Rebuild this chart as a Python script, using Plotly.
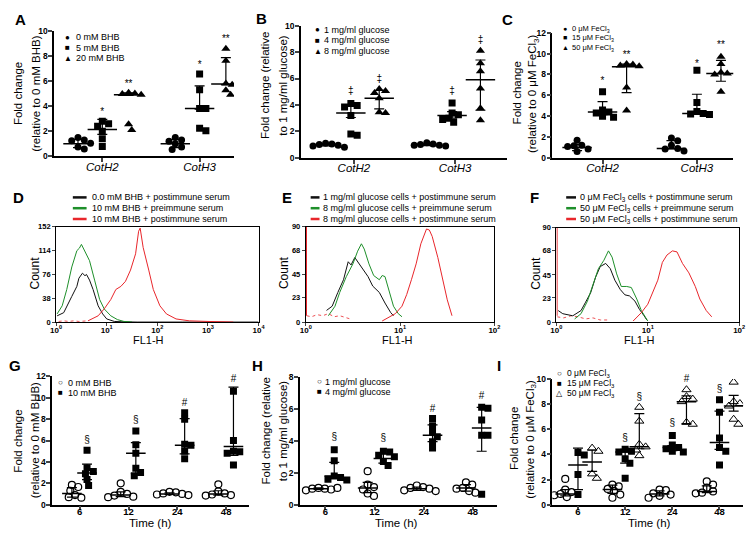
import plotly.graph_objects as go

W, H = 755, 545
FONT = "Liberation Sans, Arial, Helvetica, sans-serif"

# ============ DATA ============
# --- Panel A (BHB) ---
A_categories = ["CotH2", "CotH3"]
A_groups = ["0 mM BHB", "5 mM BHB", "20 mM BHB"]
A_0mM = [[1.5, 1.3, 1.25, 1.05, 0.75, 0.6], [1.5, 1.3, 1.2, 1.0, 0.75, 0.55]]
A_5mM = [[2.8, 2.6, 2.4, 2.0, 1.4, 0.8], [6.55, 5.3, 3.8, 3.8, 2.25, 2.05]]
A_20mM = [[5.05, 5.0, 4.95, 4.9, 2.55, 2.1], [8.55, 7.6, 5.8, 5.7, 5.25, 4.9]]
A_mid = [[1.0, 1.0], [2.15, 3.8], [4.9, 5.75]]
A_lo = [[0.7, 0.7], [1.75, 3.75], [4.85, 5.7]]
A_hi = [[1.35, 1.35], [2.95, 5.6], [5.05, 7.85]]
A_sig = ["", "*", "**"]
A_sig_y = [[None, None], [3.5, 7.25], [5.75, 9.25]]

# --- Panel B (glucose) ---
B_categories = ["CotH2", "CotH3"]
B_groups = ["1 mg/ml glucose", "4 mg/ml glucose", "8 mg/ml glucose"]
B_1mg = [[1.1, 1.05, 1.0, 0.95, 0.9, 0.8], [1.15, 1.05, 1.0, 0.95, 0.95, 0.9]]
B_4mg = [[4.1, 3.95, 3.85, 3.2, 1.8, 1.7], [4.15, 3.4, 3.25, 3.0, 2.9, 2.7]]
B_8mg = [[5.2, 5.05, 4.9, 4.5, 3.45, 3.4], [8.1, 7.15, 6.55, 5.25, 3.75, 2.85]]
B_mid = [[1.0, 1.0], [3.4, 3.2], [4.5, 5.9]]
B_lo = [[0.9, 0.92], [3.05, 3.0], [3.7, 3.6]]
B_hi = [[1.08, 1.06], [4.0, 3.5], [5.1, 7.4]]
B_sig = ["", "‡", "‡"]
B_sig_y = [[None, None], [5.0, 5.0], [5.9, 8.85]]

# --- Panel C (FeCl3) ---
C_categories = ["CotH2", "CotH3"]
C_groups = ["0 μM FeCl<sub>3</sub>", "15 μM FeCl<sub>3</sub>", "50 μM FeCl<sub>3</sub>"]
C_0uM = [[1.7, 1.2, 1.15, 1.1, 0.85, 0.6], [1.9, 1.65, 1.2, 0.9, 0.85, 0.65]]
C_15uM = [[6.35, 4.6, 4.4, 4.3, 4.0, 3.9], [8.4, 5.3, 4.45, 4.25, 4.2, 4.15]]
C_50uM = [[9.0, 8.95, 8.85, 8.8, 6.75, 4.55], [9.7, 9.0, 8.2, 8.1, 8.0, 6.35]]
C_mid = [[1.0, 0.9], [4.4, 4.25], [8.75, 8.1]]
C_lo = [[0.7, 0.85], [4.15, 4.2], [6.25, 7.35]]
C_hi = [[1.3, 1.65], [5.4, 6.1], [9.0, 9.35]]
C_sig = ["", "*", "**"]
C_sig_y = [[None, None], [7.3, 9.0], [9.8, 10.75]]

# --- Panel D (flow, BHB) : log10 FL1-H, counts ---
D_labels = ["0.0 mM BHB + postimmune serum", "10 mM BHB + preimmune serum", "10 mM BHB + postimmune serum"]
D_black_log = [0.02, 0.15, 0.31, 0.41, 0.45, 0.5, 0.52, 0.57, 0.6, 0.66, 0.73, 0.83, 0.92, 1.0, 1.15, 1.3, 1.6, 2.5, 4.0]
D_black_cnt = [10, 15, 41, 57, 70, 75, 78, 74, 76, 67, 52, 26, 13, 5, 1, 0.5, 0, 0, 0]
D_green_log = [0.02, 0.12, 0.21, 0.31, 0.41, 0.46, 0.5, 0.54, 0.57, 0.66, 0.76, 0.86, 0.95, 1.08, 1.21, 1.34, 1.5]
D_green_cnt = [13, 26, 52, 88, 114, 118, 124, 118, 114, 98, 67, 36, 21, 10, 4, 1, 0]
D_red_log = [0.63, 0.83, 0.95, 1.08, 1.18, 1.28, 1.37, 1.47, 1.57, 1.63, 1.66, 1.72, 1.83, 1.92, 2.05, 2.18, 2.37, 2.63, 3.0, 3.5]
D_red_cnt = [2, 10, 21, 36, 52, 57, 65, 83, 109, 145, 150, 119, 83, 52, 26, 13, 5, 2, 1, 0]
D_redfloor_log = [0.05, 0.15, 0.25, 0.35, 0.45, 0.55, 0.63]
D_redfloor_cnt = [1, 2, 1, 2, 1, 2, 2]

# --- Panel E (flow, glucose) ---
E_labels = ["1 mg/ml glucose cells + postimmune serum", "8 mg/ml glucose cells + preimmune serum", "8 mg/ml glucose cells + postimmune serum"]
E_black_log = [0.22, 0.28, 0.34, 0.40, 0.45, 0.48, 0.52, 0.55, 0.60, 0.66, 0.71, 0.78, 0.84, 0.90, 0.93]
E_black_cnt = [11, 15, 28, 40, 57, 54, 61, 57, 51, 43, 34, 28, 18, 9, 6]
E_green_log = [0.24, 0.31, 0.36, 0.43, 0.50, 0.55, 0.59, 0.62, 0.67, 0.72, 0.78, 0.81, 0.84, 0.88, 0.93, 0.98, 1.02]
E_green_cnt = [6, 15, 28, 43, 55, 67, 74, 69, 55, 44, 40, 44, 43, 31, 15, 8, 5]
E_red_log = [0.81, 0.95, 1.02, 1.07, 1.12, 1.17, 1.22, 1.28, 1.31, 1.34, 1.40, 1.45, 1.50, 1.55]
E_red_cnt = [1, 8, 15, 26, 40, 55, 74, 88, 87, 81, 61, 40, 21, 6]
E_redspike_log = [0.008, 0.008]
E_redspike_cnt = [90, 6]
E_redfloor_log = [0.01, 0.06, 0.12, 0.18, 0.24, 0.3, 0.36, 0.42, 0.47]
E_redfloor_cnt = [6, 5, 7, 6, 8, 5, 6, 4, 3]

# --- Panel F (flow, FeCl3) ---
F_labels = ["0 μM FeCl<sub>3</sub> cells + postimmune serum", "50 μM FeCl<sub>3</sub> cells + preimmune serum", "50 μM FeCl<sub>3</sub> cells + postimmune serum"]
F_black_log = [0.02, 0.07, 0.18, 0.27, 0.32, 0.375, 0.43, 0.48, 0.54, 0.59, 0.64, 0.70, 0.75, 0.80, 0.86, 0.91, 0.96, 0.99]
F_black_cnt = [11, 8, 6, 11, 19, 28, 43, 53, 56, 51, 40, 31, 26, 25, 20, 12, 6, 2]
F_green_log = [0.2, 0.27, 0.34, 0.41, 0.46, 0.52, 0.57, 0.61, 0.66, 0.71, 0.77, 0.82, 0.88, 0.93, 0.98, 1.0]
F_green_cnt = [3, 8, 20, 37, 51, 59, 68, 62, 46, 34, 34, 33, 22, 11, 4, 1]
F_red_log = [0.84, 0.93, 1.0, 1.05, 1.11, 1.16, 1.21, 1.27, 1.32, 1.38, 1.45, 1.52, 1.57, 1.64, 1.70]
F_red_cnt = [1, 9, 17, 28, 40, 57, 64, 68, 67, 56, 47, 34, 22, 11, 5]
F_redspike_log = [0.008, 0.008]
F_redspike_cnt = [90, 6]
F_redfloor_log = [0.01, 0.08, 0.16, 0.24, 0.32, 0.4, 0.48, 0.56]
F_redfloor_cnt = [5, 4, 6, 5, 3, 4, 2, 2]

# --- Panel G (time course BHB) ---
G_times = ["6", "12", "24", "48"]
G_groups = ["0 mM BHB", "10 mM BHB"]
G_0mM = [[1.85, 1.65, 1.3, 0.9, 0.7, 0.65], [2.0, 1.2, 1.0, 0.85, 0.75, 0.7],
         [1.2, 1.15, 1.05, 1.0, 0.95, 0.9], [1.9, 1.25, 1.05, 0.95, 0.9, 0.85]]
G_10mM = [[5.1, 3.45, 3.1, 2.9, 2.35, 1.8], [6.9, 5.6, 4.8, 3.4, 3.0, 2.7],
          [8.6, 8.0, 5.65, 5.55, 5.0, 4.3], [10.6, 6.0, 5.0, 4.95, 4.8, 3.7]]
G_mid = [[1.05, 0.9, 1.0, 1.0], [2.95, 4.8, 5.55, 5.45]]
G_lo = [[0.7, 0.75, 0.95, 0.9], [2.35, 2.9, 4.75, 4.6]]
G_hi = [[1.6, 1.2, 1.1, 1.3], [3.8, 5.8, 8.05, 11.0]]
G_sig = [["", "", "", ""], ["§", "§", "#", "#"]]
G_sig_y = [[None] * 4, [6.0, 7.85, 9.45, 11.7]]

# --- Panel H (time course glucose) ---
H_times = ["6", "12", "24", "48"]
H_groups = ["1 mg/ml glucose", "4 mg/ml glucose"]
H_1mg = [[1.05, 1.0, 1.0, 0.95, 0.9, 1.05], [2.1, 1.25, 1.1, 0.95, 0.7, 0.55],
         [1.2, 1.1, 1.05, 1.0, 0.9, 0.85], [1.4, 1.25, 1.05, 1.0, 0.85, 0.75]]
H_4mg = [[3.45, 2.75, 1.8, 1.7, 1.6, 1.55], [3.35, 3.3, 3.1, 3.0, 2.7, 2.45],
         [5.4, 4.95, 4.55, 4.25, 3.95, 3.55], [6.1, 6.05, 5.3, 4.35, 4.35, 0.65]]
H_mid = [[1.0, 1.05, 1.0, 1.05], [1.8, 2.9, 4.35, 4.8]]
H_lo = [[0.95, 0.75, 0.9, 0.85], [1.65, 2.6, 3.95, 3.35]]
H_hi = [[1.05, 1.4, 1.1, 1.25], [2.65, 3.2, 5.0, 6.1]]
H_sig = [["", "", "", ""], ["§", "§", "#", "#"]]
H_sig_y = [[None] * 4, [4.2, 4.15, 5.95, 6.75]]

# --- Panel I (time course FeCl3) ---
I_times = ["6", "12", "24", "48"]
I_groups = ["0 μM FeCl<sub>3</sub>", "15 μM FeCl<sub>3</sub>", "50 μM FeCl<sub>3</sub>"]
I_0uM = [[2.05, 1.2, 1.0, 0.85, 0.75, 0.6], [1.6, 1.45, 1.25, 1.1, 0.8, 0.55],
         [1.2, 1.15, 0.9, 0.8, 0.7, 0.55], [1.85, 1.6, 1.35, 1.05, 0.95, 0.9]]
I_15uM = [[4.15, 3.95, 2.4, 0.8], [4.4, 4.25, 4.2, 3.65, 3.3, 2.1],
          [5.5, 4.75, 4.55, 4.45, 4.25, 4.2], [8.35, 7.35, 5.3, 4.55, 4.25, 3.15]]
I_50uM = [[4.5, 4.25, 2.45, 2.1], [7.75, 6.65, 4.8, 4.6, 4.35, 3.9],
          [9.15, 8.6, 8.4, 8.2, 6.55, 6.4], [9.75, 8.2, 8.05, 7.85, 6.8, 6.4]]
I_mid = [[0.85, 1.2, 0.85, 1.05], [3.15, 4.2, 4.55, 4.95], [3.4, 4.6, 8.2, 7.85]]
I_lo = [[0.7, 0.9, 0.7, 0.95], [1.2, 3.3, 4.3, 4.4], [2.65, 4.45, 6.45, 7.45]]
I_hi = [[1.2, 1.55, 1.1, 1.5], [4.5, 4.4, 4.7, 7.45], [4.35, 7.25, 8.65, 8.7]]
I_sig = [["", "", "", ""], ["", "§", "§", "§"], ["", "§", "#", "#"]]
I_sig_y = [[None] * 4, [None, 5.25, 6.45, 9.15], [None, 8.55, 9.95, 10.7]]

# ============ LAYOUT GEOMETRY (pixels) ============
BOX = {
    1: dict(l=49, r=232, t=26, b=154.3),
    2: dict(l=300, r=510, t=21, b=155.7),
    3: dict(l=556, r=740, t=28.3, b=155.7),
    4: dict(l=51, r=257, t=226, b=323),
    5: dict(l=305, r=497, t=226, b=323),
    6: dict(l=560, r=746, t=227, b=323),
    7: dict(l=47, r=247, t=378.3, b=509),
    8: dict(l=299, r=500, t=379, b=509),
    9: dict(l=556, r=750, t=381, b=509),
}
CAT_PX = {1: (98, 197), 2: (354, 457), 3: (607, 703), 7: (75, 224), 8: (325, 475), 9: (582, 726)}


def P(px, py):
    return px / W, 1 - py / H


def axname(n):
    return ("x", "y") if n == 1 else (f"x{n}", f"y{n}")


fig = go.Figure()
layout = dict(width=W, height=H, margin=dict(l=0, r=0, t=0, b=0, pad=0),
              paper_bgcolor="white", plot_bgcolor="white", showlegend=False,
              font=dict(family=FONT, color="black"))
annotations = []
shapes = []


def ann(text, px, py, size, xanchor="center", bold=False, angle=0, italic=False, yanchor="middle"):
    x, y = P(px, py)
    annotations.append(dict(text=text, x=x, y=y, xref="paper", yref="paper", showarrow=False,
                            xanchor=xanchor, yanchor=yanchor, textangle=angle,
                            font=dict(family=FONT, size=size, color="black",
                                      weight="bold" if bold else "normal",
                                      style="italic" if italic else "normal")))


def beeswarm(vals, center, xscale, yscale, d=6.2, step=1.6):
    placed = []
    xs = []
    for v in vals:
        ypx = v * yscale
        k = 0
        while True:
            off = 0 if k == 0 else ((k + 1) // 2) * step * (1 if k % 2 else -1)
            if all((off - a) ** 2 + (ypx - b) ** 2 >= d * d for a, b in placed):
                break
            k += 1
        placed.append((off, ypx))
        xs.append(center + off / xscale)
    return xs


def dot_panel(n, cats, ymax, ytick_step, series, symbols, sizes, lws, offsets,
              mid, lo, hi, sig, sig_y, midsize, capw):
    bx = BOX[n]
    c0, c1 = CAT_PX[n]
    unit = (c1 - c0) / (len(cats) - 1)
    xr = [(bx["l"] - c0) / unit, (bx["r"] - c0) / unit]
    xscale = unit
    yscale = (bx["b"] - bx["t"]) / ymax
    xa, ya = axname(n)
    for g, pts in enumerate(series):
        xs_all, ys_all = [], []
        for c, vals in enumerate(pts):
            xs_all += beeswarm(vals, c + offsets[g], xscale, yscale)
            ys_all += vals
        fig.add_trace(go.Scatter(x=xs_all, y=ys_all, mode="markers", xaxis=xa, yaxis=ya,
                                 marker=dict(symbol=symbols[g], size=sizes[g], color="black",
                                             line=dict(width=lws[g], color="black")),
                                 hoverinfo="skip"))
    for g in range(len(series)):
        xc = [c + offsets[g] for c in range(len(cats))]
        fig.add_trace(go.Scatter(
            x=xc, y=mid[g], mode="markers", xaxis=xa, yaxis=ya,
            marker=dict(symbol="line-ew", size=midsize, line=dict(width=1.5, color="black")),
            error_y=dict(type="data", symmetric=False,
                         array=[h - m for h, m in zip(hi[g], mid[g])],
                         arrayminus=[m - l for m, l in zip(mid[g], lo[g])],
                         width=capw, thickness=1.2, color="black"),
            hoverinfo="skip"))
        sx = [xc[i] for i in range(len(cats)) if sig_y[g][i] is not None]
        sy = [sig_y[g][i] for i in range(len(cats)) if sig_y[g][i] is not None]
        st = [sig[g][i] if isinstance(sig[g], list) else sig[g]
              for i in range(len(cats)) if sig_y[g][i] is not None]
        if sx:
            fig.add_trace(go.Scatter(x=sx, y=sy, mode="text", text=st, xaxis=xa, yaxis=ya,
                                     textfont=dict(family=FONT, size=10, color="#000000"),
                                     cliponaxis=False, hoverinfo="skip"))
    xk = "xaxis" if n == 1 else f"xaxis{n}"
    yk = "yaxis" if n == 1 else f"yaxis{n}"
    layout[xk] = dict(domain=[bx["l"] / W, bx["r"] / W], range=xr, anchor=ya,
                      tickmode="array", tickvals=list(range(len(cats))), ticktext=cats,
                      ticks="outside", ticklen=4, tickwidth=1.5, showline=True, linewidth=1.5,
                      linecolor="black", showgrid=False, zeroline=False, ticklabelstandoff=-5)
    layout[yk] = dict(domain=[1 - bx["b"] / H, 1 - bx["t"] / H], range=[0, ymax], anchor=xa,
                      tickmode="array", tickvals=list(range(0, ymax + 1, ytick_step)),
                      ticks="outside", ticklen=4, tickwidth=1.5, showline=True, linewidth=1.5,
                      linecolor="black", showgrid=False, zeroline=False, ticklabelstandoff=-1,
                      tickfont=dict(family=FONT, size=8.5, weight="bold"))
    return xk


def hist_panel(n, xmax_dec, ymax, yticks, curves):
    bx = BOX[n]
    xa, ya = axname(n)
    for logs, cnts, color, dash, lw in curves:
        fig.add_trace(go.Scatter(x=[10 ** v for v in logs], y=cnts, mode="lines", xaxis=xa, yaxis=ya,
                                 line=dict(color=color, width=lw, dash=dash), hoverinfo="skip"))
    xk = "xaxis" if n == 1 else f"xaxis{n}"
    yk = "yaxis" if n == 1 else f"yaxis{n}"
    decs = list(range(0, xmax_dec + 1))
    layout[xk] = dict(domain=[bx["l"] / W, bx["r"] / W], type="log", range=[0, xmax_dec], anchor=ya,
                      tickmode="array", tickvals=[10 ** d for d in decs],
                      ticktext=[f"10<sup>{d}</sup>" for d in decs],
                      ticks="outside", ticklen=3, tickwidth=1, showline=True, linewidth=1,
                      linecolor="black", mirror=True, showgrid=False, zeroline=False,
                      ticklabelstandoff=-3,
                      tickfont=dict(family=FONT, size=8, weight="bold"))
    layout[yk] = dict(domain=[1 - bx["b"] / H, 1 - bx["t"] / H], range=[0, ymax], anchor=xa,
                      tickmode="array", tickvals=yticks,
                      ticks="outside", ticklen=3, tickwidth=1, showline=True, linewidth=1,
                      linecolor="black", mirror=True, showgrid=False, zeroline=False,
                      tickfont=dict(family=FONT, size=7.5, weight="bold"))


ital = lambda cs: [f"<i>{c}</i>" for c in cs]
FILLED = ["circle", "square", "triangle-up"]

kA = dot_panel(1, A_categories, 10, 2, [A_0mM, A_5mM, A_20mM], FILLED, [7, 7, 8], [0, 0, 0],
               [-0.25, 0.0, 0.27], A_mid, A_lo, A_hi, A_sig, A_sig_y, 21, 5)
kB = dot_panel(2, B_categories, 10, 2, [B_1mg, B_4mg, B_8mg], FILLED, [7, 7, 8], [0, 0, 0],
               [-0.28, -0.03, 0.25], B_mid, B_lo, B_hi, B_sig, B_sig_y, 21, 5)
kC = dot_panel(3, C_categories, 12, 2, [C_0uM, C_15uM, C_50uM], FILLED, [7, 7, 8], [0, 0, 0],
               [-0.27, 0.0, 0.255], C_mid, C_lo, C_hi, C_sig, C_sig_y, 21, 5)
for k in (kA, kB, kC):
    layout[k]["ticktext"] = ital(A_categories)
    layout[k]["tickfont"] = dict(family=FONT, size=11.5)
kG = dot_panel(7, G_times, 12, 2, [G_0mM, G_10mM], ["circle-open", "square"], [7, 7], [1.2, 0],
               [-0.16, 0.15], G_mid, G_lo, G_hi, G_sig, G_sig_y, 14, 5)
kH = dot_panel(8, H_times, 8, 2, [H_1mg, H_4mg], ["circle-open", "square"], [7, 7], [1.2, 0],
               [-0.14, 0.18], H_mid, H_lo, H_hi, H_sig, H_sig_y, 14, 5)
kI = dot_panel(9, I_times, 10, 2, [I_0uM, I_15uM, I_50uM], ["circle-open", "square", "triangle-up-open"],
               [7, 7, 8], [1.2, 0, 1.0], [-0.27, 0.0, 0.3], I_mid, I_lo, I_hi, I_sig, I_sig_y, 14, 5)
for k in (kG, kH, kI):
    layout[k]["tickfont"] = dict(family=FONT, size=9.5, weight="bold")
    layout[k]["ticklabelstandoff"] = -7

BLACK, GREEN, RED = "#111111", "#1e8f2a", "#e8262b"
hist_panel(4, 4, 152, [0, 38, 76, 114, 152],
           [(D_redfloor_log, D_redfloor_cnt, RED, "dot", 0.8),
            (D_black_log, D_black_cnt, BLACK, "solid", 1), (D_green_log, D_green_cnt, GREEN, "solid", 1),
            (D_red_log, D_red_cnt, RED, "solid", 1)])
hist_panel(5, 2, 90, [0, 23, 45, 68, 90],
           [(E_redfloor_log, E_redfloor_cnt, RED, "dot", 0.8), (E_redspike_log, E_redspike_cnt, RED, "solid", 1),
            (E_black_log, E_black_cnt, BLACK, "solid", 1),
            (E_green_log, E_green_cnt, GREEN, "solid", 1), (E_red_log, E_red_cnt, RED, "solid", 1)])
hist_panel(6, 2, 90, [0, 23, 45, 68, 90],
           [(F_redfloor_log, F_redfloor_cnt, RED, "dot", 0.8), (F_redspike_log, F_redspike_cnt, RED, "solid", 1),
            (F_black_log, F_black_cnt, BLACK, "solid", 1),
            (F_green_log, F_green_cnt, GREEN, "solid", 1), (F_red_log, F_red_cnt, RED, "solid", 1)])

# ============ TEXT ============
for letter, px, py in [("A", 15, 15), ("B", 260, 14), ("C", 510, 15), ("D", 13, 196), ("E", 286, 196),
                       ("F", 538, 196), ("G", 9, 367), ("H", 256, 367), ("I", 502, 367)]:
    ann(letter, px, py, 15, bold=True)

ann("Fold change", 13, 90, 11.5, angle=-90)
ann("(relative to 0 mM BHB)", 31, 90, 11.5, angle=-90)
ann("Fold change (relative", 264, 82, 11.5, angle=-90)
ann("to 1 mg/ml glucose)", 282, 82, 11.5, angle=-90)
ann("Fold change", 520, 90, 11.5, angle=-90)
ann("(relative to 0 μM FeCl<sub>3</sub>)", 537, 90, 11.5, angle=-90)
ann("Fold change", 12, 444, 11.5, angle=-90)
ann("(relative to 0 mM BHB)", 29, 444, 11.5, angle=-90)
ann("Fold change (relative", 265, 434, 11.5, angle=-90)
ann("to 1 mg/ml glucose)", 282, 434, 11.5, angle=-90)
ann("Fold change", 517, 442, 11.5, angle=-90)
ann("(relative to 0 μM FeCl<sub>3</sub>)", 534, 442, 11.5, angle=-90)
for px in (29, 283, 539):
    ann("Count", px, 273, 12, angle=-90)
for px in (145, 398, 645):
    ann("FL1-H", px, 341, 11)
for px in (147, 397, 655):
    ann("Time (h)", px, 528, 11.5)


def dot_legend(glyphs, labels, gx, tx, ys, gsize=8, tsize=9):
    for gl, lab, y in zip(glyphs, labels, ys):
        ann(gl, gx, y, gsize)
        ann(lab, tx, y, tsize, xanchor="left")


dot_legend(["●", "■", "▲"], A_groups, 63, 69.5, [33, 43.5, 54])
dot_legend(["●", "■", "▲"], B_groups, 317, 322, [25, 36, 47])
dot_legend(["●", "■", "▲"], C_groups, 569, 573.5, [24, 33.5, 43.5], gsize=7, tsize=7.5)
dot_legend(["○", "■"], G_groups, 55, 61, [385, 395])
dot_legend(["○", "■"], H_groups, 318.5, 323, [384, 394])
dot_legend(["○", "■", "△"], I_groups, 563.5, 569, [375.5, 385.5, 395.5], tsize=8.5)


def line_legend(labels, x0, x1, tx, ys):
    for lab, col, y in zip(labels, [BLACK, GREEN, RED], ys):
        a, yy = P(x0, y)
        b, _ = P(x1, y)
        shapes.append(dict(type="line", xref="paper", yref="paper", x0=a, x1=b, y0=yy, y1=yy,
                           line=dict(color=col, width=2.5)))
        ann(lab, tx, y, 9, xanchor="left")


line_legend(D_labels, 68, 82, 85, [196, 207, 218])
line_legend(E_labels, 310, 319, 321, [196, 207, 218])
line_legend(F_labels, 570, 580, 582, [196, 207, 218])

layout["annotations"] = annotations
layout["shapes"] = shapes
fig.update_layout(**layout)
fig.write_html("out.html", config={"displayModeBar": False},
               post_script="document.body.style.margin='0';")
